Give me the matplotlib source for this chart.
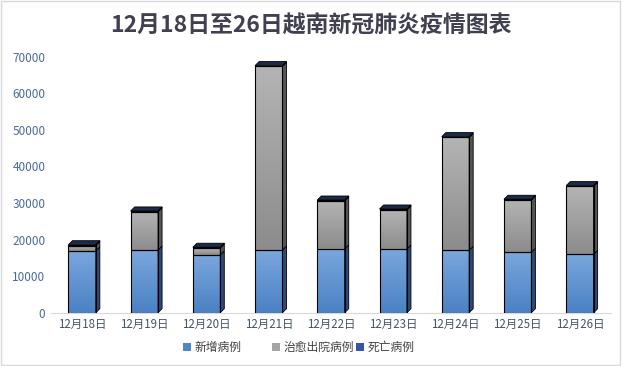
import numpy as np
import matplotlib.pyplot as plt
from matplotlib.patches import Polygon, Rectangle
from matplotlib.colors import LinearSegmentedColormap

plt.rcParams['font.family'] = ['Noto Sans CJK SC', 'DejaVu Sans']

dates = ['12月18日', '12月19日', '12月20日', '12月21日', '12月22日',
         '12月23日', '12月24日', '12月25日', '12月26日']
new_cases = [16870, 17150, 15780, 17150, 17420, 17420, 17060, 16500, 15970]
recovered = [1500, 10450, 1900, 50200, 13170, 10720, 30870, 14300, 18560]
deaths = [220, 220, 215, 215, 220, 215, 215, 215, 215]
series_names = ['新增病例', '治愈出院病例', '死亡病例']

front_cols = [('#7aa6dc', '#4a82c4'), ('#b4b4b4', '#8c8c8c'), ('#3a5a9a', '#2a4480')]
side_cols = ['#2e4a78', '#555555', '#1c2c55']
top_col = '#1c2a4a'
legend_cols = ['#4f86c6', '#a5a5a5', '#3556a4']

fig = plt.figure(figsize=(6.22, 3.66), dpi=100)
ax = fig.add_axes([51/622, (366-312.7)/366, 560/622, 256/366])
ax.set_xlim(-0.5, 8.5)
ax.set_ylim(0, 70000)

w = 0.44
dx = 0.065
dy = 1100
x = np.arange(len(dates))
bottoms = np.zeros(len(dates))
grad = np.linspace(0, 1, 64).reshape(-1, 1)
for k, vals in enumerate([new_cases, recovered, deaths]):
    vals = np.array(vals, dtype=float)
    bars = ax.bar(x, vals, w, bottom=bottoms, color='none', edgecolor='black',
                  linewidth=0.8, zorder=3)
    cm = LinearSegmentedColormap.from_list('g%d' % k, [front_cols[k][1], front_cols[k][0]])
    for i, b in enumerate(bars):
        y0, y1 = bottoms[i], bottoms[i] + vals[i]
        im = ax.imshow(grad, cmap=cm, aspect='auto', origin='lower',
                       extent=[x[i]-w/2, x[i]+w/2, y0, y1], zorder=2)
        im.set_clip_path(b)
        side = Polygon([(x[i]+w/2, y0), (x[i]+w/2+dx, y0+dy),
                        (x[i]+w/2+dx, y1+dy), (x[i]+w/2, y1)],
                       closed=True, facecolor=side_cols[k], edgecolor='black',
                       linewidth=0.6, zorder=2.5)
        ax.add_patch(side)
    bottoms = bottoms + vals

for i in range(len(dates)):
    t = bottoms[i]
    top = Polygon([(x[i]-w/2, t), (x[i]-w/2+dx, t+dy), (x[i]+w/2+dx, t+dy), (x[i]+w/2, t)],
                  closed=True, facecolor=top_col, edgecolor='black', linewidth=0.6, zorder=4)
    ax.add_patch(top)

for s in ['top', 'right', 'left']:
    ax.spines[s].set_visible(False)
ax.spines['bottom'].set_color('#d9d9d9')
ax.set_xticks(x)
ax.set_xticklabels(dates, fontsize=8.3, color='#44546a')
ax.set_yticks(np.arange(0, 70001, 10000))
ax.set_yticklabels([str(v) for v in range(0, 70001, 10000)], fontsize=8.5, color='#4a6a9a')
ax.tick_params(length=0, pad=4)

fig.text(0.5, 0.928, '12月18日至26日越南新冠肺炎疫情图表', ha='center', va='center',
         fontsize=16.5, fontweight='bold', color='#404050')

# legend drawn by hand so the entries sit where the original has them
leg_x = [183, 272, 356]
for c, name, px in zip(legend_cols, series_names, leg_x):
    fig.patches.append(Rectangle((px/622, (366-351)/366), 8/622, 8/366,
                                 transform=fig.transFigure, facecolor=c, edgecolor='none'))
    fig.text((px+12)/622, (366-347)/366, name, ha='left', va='center',
             fontsize=8.5, color='#404040')

fig.patches.append(Rectangle((0.002, 0.003), 0.995, 0.994, transform=fig.transFigure,
                             fill=False, edgecolor='#d9d9d9', linewidth=1))

fig.savefig('out.png', dpi=100)
